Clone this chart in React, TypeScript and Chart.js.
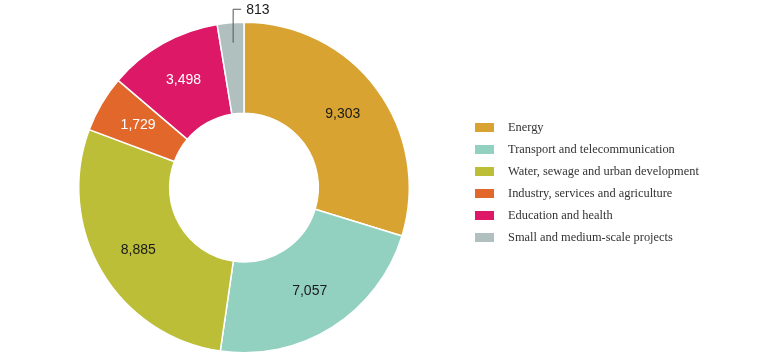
import React, { useEffect, useRef } from "react";
import { Chart, registerables } from "chart.js";

Chart.register(...registerables);

const categories = [
  "Energy",
  "Transport and telecommunication",
  "Water, sewage and urban development",
  "Industry, services and agriculture",
  "Education and health",
  "Small and medium-scale projects",
];
const values = [9303, 7057, 8885, 1729, 3498, 813];
const colors = ["#D8A331", "#92D0C0", "#BBBE36", "#E2672A", "#DC1867", "#B0C0BF"];
const labelColors = ["#1a1a1a", "#1a1a1a", "#1a1a1a", "#ffffff", "#ffffff", "#1a1a1a"];

const fmt = (v: number) => v.toLocaleString("en-US");

const labelsPlugin = {
  id: "sliceLabels",
  afterDatasetsDraw(chart: any) {
    const ctx = chart.ctx;
    const meta = chart.getDatasetMeta(0);
    ctx.save();
    ctx.font = "14px 'Liberation Sans', Arial, sans-serif";
    ctx.textBaseline = "middle";
    meta.data.forEach((arc: any, i: number) => {
      const { x, y, startAngle, endAngle, innerRadius, outerRadius } = arc.getProps(
        ["x", "y", "startAngle", "endAngle", "innerRadius", "outerRadius"],
        true
      );
      const mid = (startAngle + endAngle) / 2;
      const text = fmt(values[i]);
      if (i === values.length - 1) {
        const r0 = outerRadius - 20;
        const px = x + Math.cos(mid) * r0 + 1;
        const py = y + Math.sin(mid) * r0;
        const topY = y - outerRadius - 13;
        ctx.strokeStyle = "#555";
        ctx.lineWidth = 1;
        ctx.beginPath();
        ctx.moveTo(px, py);
        ctx.lineTo(px, topY);
        ctx.lineTo(px + 8, topY);
        ctx.stroke();
        ctx.fillStyle = "#1a1a1a";
        ctx.textAlign = "left";
        ctx.fillText(text, px + 13, topY + 1);
      } else {
        const r = (innerRadius + outerRadius) / 2 + 3;
        ctx.fillStyle = labelColors[i];
        ctx.textAlign = "center";
        ctx.fillText(text, x + Math.cos(mid) * r, y + Math.sin(mid) * r);
      }
    });
    ctx.font = "12.4px 'Liberation Serif', 'Times New Roman', serif";
    ctx.textAlign = "left";
    categories.forEach((c, i) => {
      const ly = 127 + i * 22;
      ctx.fillStyle = colors[i];
      ctx.fillRect(475, ly - 4, 19, 9);
      ctx.fillStyle = "#333";
      ctx.fillText(c, 508, ly + 1);
    });
    ctx.restore();
  },
};

export default function App() {
  const ref = useRef<HTMLCanvasElement>(null);
  useEffect(() => {
    if (!ref.current) return;
    const chart = new Chart(ref.current, {
      type: "doughnut",
      data: {
        labels: categories,
        datasets: [
          {
            data: values,
            backgroundColor: colors,
            borderColor: "#ffffff",
            borderWidth: 1.5,
          },
        ],
      },
      options: {
        animation: false,
        responsive: false,
        cutout: "45%",
        layout: { padding: { left: 78, right: 358, top: 21, bottom: 5 } },
        plugins: { legend: { display: false }, tooltip: { enabled: false } },
      },
      plugins: [labelsPlugin],
    });
    return () => chart.destroy();
  }, []);
  return (
    <div style={{ position: "absolute", left: 0, top: 0, width: 768, height: 359, background: "#fff" }}>
      <canvas ref={ref} width={768} height={359} style={{ width: 768, height: 359 }} />
    </div>
  );
}
